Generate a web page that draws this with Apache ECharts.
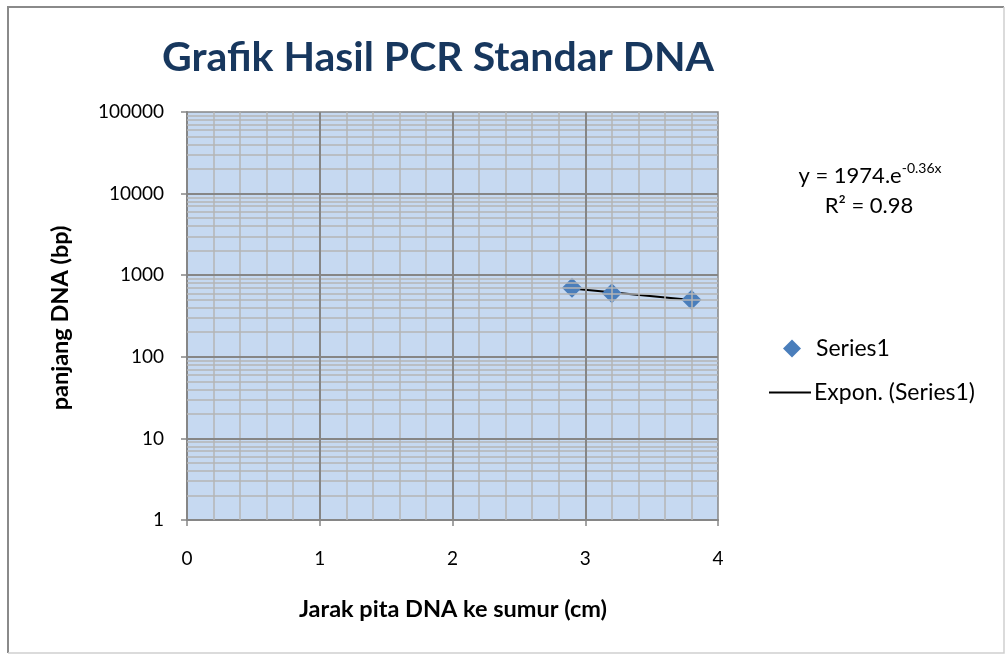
<!DOCTYPE html>
<html><head><meta charset="utf-8">
<script src="https://cdn.jsdelivr.net/npm/echarts@6/dist/echarts.min.js"></script>
<style>html,body{margin:0;padding:0;background:#fff}#c{width:1005px;height:654px}</style>
</head><body><div id="c"></div>
<script>
// ---- data ----
const titleText = 'Grafik Hasil PCR Standar DNA';
const xAxisTitle = 'Jarak pita DNA ke sumur (cm)';
const yAxisTitle = 'panjang DNA (bp)';
const xTickLabels = [0, 1, 2, 3, 4];
const yTickLabels = [1, 10, 100, 1000, 10000, 100000];
const distanceCm = [2.9, 3.2, 3.8];
const lengthBp = [700, 600, 500];
const seriesName = 'Series1';
const trendName = 'Expon. (Series1)';
const equationMain = 'y = 1974.e';
const equationExp = '-0.36x';
const r2Text = 'R² = 0.98';

// ---- derived ----
const FONT = 'Lato, Carlito, Calibri, "Open Sans", sans-serif';
const pts = distanceCm.map((x, i) => [x, lengthBp[i]]);
// exponential least-squares fit (in ln space)
const n = pts.length;
const mx = distanceCm.reduce((a, b) => a + b, 0) / n;
const lny = lengthBp.map(v => Math.log(v));
const my = lny.reduce((a, b) => a + b, 0) / n;
let sxx = 0, sxy = 0;
distanceCm.forEach((x, i) => { sxx += (x - mx) ** 2; sxy += (x - mx) * (lny[i] - my); });
const slope = sxy / sxx, icpt = my - slope * mx;
const xMin = Math.min(...distanceCm), xMax = Math.max(...distanceCm);
const trendPts = [xMin, xMax].map(x => [x, Math.exp(icpt + slope * x)]);

const xMinStep = 0.2;
const xMax0 = xTickLabels[xTickLabels.length - 1];
const minorV = [], majorV = [];
for (let i = 1; i * xMinStep < xMax0 - 1e-9; i++) {
  const v = +(i * xMinStep).toFixed(2);
  if (Math.abs(v - Math.round(v)) < 1e-9) majorV.push({ xAxis: v }); else minorV.push({ xAxis: v });
}
const minorH = [], majorH = [];
for (let k = 0; k < yTickLabels.length - 1; k++) {
  const d = yTickLabels[k];
  for (let m = 2; m <= 9; m++) minorH.push({ yAxis: m * d });
  if (k > 0) majorH.push({ yAxis: d });
}

const chart = echarts.init(document.getElementById('c'), null, { renderer: 'canvas' });
const gridLineSeries = (name, data, color, width, z) => ({
  name, type: 'scatter', data: [], z, silent: true, legendHoverLink: false,
  markLine: { silent: true, symbol: ['none', 'none'], label: { show: false }, animation: false,
    lineStyle: { color, width, type: 'solid' }, emphasis: { disabled: true }, data }
});

chart.setOption({
  animation: false,
  backgroundColor: '#ffffff',
  textStyle: { fontFamily: FONT },
  grid: { left: 187, top: 112, width: 531, height: 408, show: true,
    backgroundColor: '#C6D9F1', borderColor: '#868686', borderWidth: 1.5 },
  xAxis: {
    type: 'value', min: 0, max: 4, interval: 1,
    axisLine: { show: true, onZero: false, lineStyle: { color: '#868686', width: 2 } },
    axisTick: { show: true, length: 6, lineStyle: { color: '#868686', width: 1.5 } },
    axisLabel: { fontSize: 19, color: '#000', margin: 29, fontFamily: FONT },
    splitLine: { show: false }
  },
  yAxis: {
    type: 'log', logBase: 10, min: 1, max: 100000,
    axisLine: { show: true, lineStyle: { color: '#868686', width: 2 } },
    axisTick: { show: true, length: 6, lineStyle: { color: '#868686', width: 1.5 } },
    axisLabel: { fontSize: 19, color: '#000', margin: 23, fontFamily: FONT,
      formatter: v => String(Math.round(v)) },
    splitLine: { show: false }
  },
  legend: [
    { data: [seriesName], orient: 'vertical', left: 778, top: 332, itemWidth: 18, itemHeight: 18,
      itemGap: 10, itemStyle: { opacity: 1 },
      textStyle: { fontSize: 23, color: '#000', fontFamily: FONT, padding: [0, 0, 0, 10] },
      selectedMode: false },
    { data: [trendName], orient: 'vertical', left: 763, top: 376, itemWidth: 42, itemHeight: 22,
      itemGap: 10, itemStyle: { opacity: 0 },
      textStyle: { fontSize: 23, color: '#000', fontFamily: FONT, padding: [0, 0, 0, -2] },
      selectedMode: false }
  ],
  graphic: [
    { type: 'polyline', silent: true, shape: { points: [[8, 653], [8, 7], [1004, 7]] },
      style: { stroke: '#8a8a8a', lineWidth: 2, fill: null } },
    { type: 'polyline', silent: true, shape: { points: [[1004, 7], [1004, 653], [8, 653]] },
      style: { stroke: '#d0d0d0', lineWidth: 1.5, fill: null } },
    { type: 'text', x: 438, y: 58, silent: true,
      style: { text: titleText, fill: '#17375E', font: 'bold 41px ' + FONT, align: 'center', verticalAlign: 'middle' } },
    { type: 'text', x: 453, y: 609, silent: true,
      style: { text: xAxisTitle, fill: '#000', font: 'bold 23.5px ' + FONT, align: 'center', verticalAlign: 'middle' } },
    { type: 'text', x: 60, y: 318, rotation: Math.PI / 2, silent: true,
      style: { text: yAxisTitle, fill: '#000', font: 'bold 23.5px ' + FONT, align: 'center', verticalAlign: 'middle' } },
    { type: 'text', x: 870, y: 174, silent: true,
      style: { text: '{a|' + equationMain + '}{s|' + equationExp + '}', align: 'center', verticalAlign: 'middle',
        rich: { a: { fontSize: 22, fontFamily: FONT, fill: '#000', verticalAlign: 'bottom', lineHeight: 26 },
                s: { fontSize: 14, fontFamily: FONT, fill: '#000', verticalAlign: 'top', lineHeight: 26 } } } },
    { type: 'text', x: 869, y: 206, silent: true,
      style: { text: r2Text, fill: '#000', font: '22px ' + FONT, align: 'center', verticalAlign: 'middle' } }
  ],
  series: [
    gridLineSeries('minorGrid', minorV.concat(minorH), '#B4B4B4', 1.5, 1),
    gridLineSeries('majorGrid', majorV.concat(majorH), '#868686', 2, 1.5),
    { name: trendName, type: 'line', data: trendPts, symbol: 'none', z: 3,
      lineStyle: { color: '#000', width: 2 }, itemStyle: { color: '#000' } },
    { name: seriesName, type: 'scatter', data: pts, symbol: 'diamond', symbolSize: 20, z: 4,
      itemStyle: { color: '#4A7EBB', opacity: 1 } }
  ]
});
</script></body></html>
